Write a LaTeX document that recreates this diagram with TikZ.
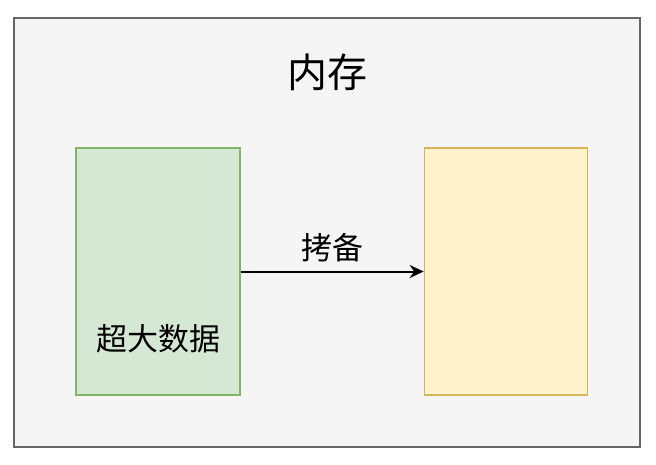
\documentclass[tikz,border=0pt]{standalone}
\usepackage{fontspec}
\setmainfont{Noto Sans CJK SC}
\usepackage{xcolor}
\usepackage{tikz}
\usetikzlibrary{positioning,arrows.meta}
\definecolor{memFill}{HTML}{F5F5F5}
\definecolor{memLine}{HTML}{666666}
\definecolor{greenFill}{HTML}{D5E8D4}
\definecolor{greenLine}{HTML}{82B366}
\definecolor{yellowFill}{HTML}{FFF2CC}
\definecolor{yellowLine}{HTML}{D6B656}
\tikzset{
  memBox/.style={
    rectangle,
    draw=memLine,
    fill=memFill,
    line width=2pt,
    minimum width=626pt,
    minimum height=429pt
  },
  dataBox/.style={
    rectangle,
    draw=greenLine,
    fill=greenFill,
    line width=1.3pt,
    minimum width=164pt,
    minimum height=247pt
  },
  copyBox/.style={
    rectangle,
    draw=yellowLine,
    fill=yellowFill,
    line width=1.3pt,
    minimum width=163pt,
    minimum height=247pt
  },
  arrowLine/.style={
    -{Stealth[length=14pt,width=13pt]},
    line width=2pt
  },
  titleText/.style={
    font=\fontsize{40}{48}\selectfont
  },
  bigText/.style={
    font=\fontsize{31}{37}\selectfont
  }
}

\begin{document}
\begin{tikzpicture}[x=1pt,y=-1pt]
        \useasboundingbox (0,0) rectangle (656,464);
        \node[memBox] (memory) at (327,232.5) {};
        \node[titleText] (title) at (327,72) {内存};

        \node[dataBox] (data) at (158,271.5) {};
        \node[copyBox, right=183pt of data] (copy) {};
        \node[bigText] (dataLabel) at (158,339) {超大数据};

        \draw[arrowLine] (data) -- node[bigText, above=5pt]{拷备} (copy);
    \end{tikzpicture}
\end{document}
